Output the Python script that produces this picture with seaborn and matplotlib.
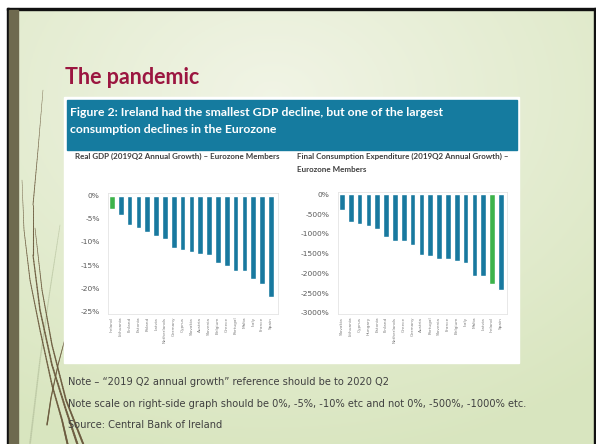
import numpy as np
import pandas as pd
import matplotlib
matplotlib.use("Agg")
import matplotlib.pyplot as plt
import seaborn as sns
from matplotlib.patches import Rectangle
from matplotlib.collections import LineCollection

# ---------------- data ----------------
gdp_countries = ["Ireland", "Lithuania", "Finland", "Estonia", "Poland", "Latvia",
                 "Netherlands", "Germany", "Cyprus", "Slovakia", "Austria", "Slovenia",
                 "Belgium", "Greece", "Portugal", "Malta", "Italy", "France", "Spain"]
gdp_values = [-2.8, -4.1, -6.4, -6.9, -7.8, -8.8, -9.3, -11.3, -11.8, -12.2, -12.5,
              -12.9, -14.6, -15.2, -16.2, -16.2, -18.0, -19.1, -22.0]

cons_countries = ["Slovakia", "Lithuania", "Cyprus", "Hungary", "Estonia", "Finland",
                  "Netherlands", "Greece", "Germany", "Austria", "Portugal", "Slovenia",
                  "France", "Belgium", "Italy", "Malta", "Latvia", "Ireland", "Spain"]
cons_values = [-400, -710, -750, -805, -875, -1080, -1170, -1185, -1290, -1530, -1555,
               -1645, -1645, -1690, -1750, -2060, -2075, -2275, -2430]

gdp_ticks = [0, -5, -10, -15, -20, -25]
gdp_ticklabels = ["0%", "-5%", "-10%", "-15%", "-20%", "-25%"]
cons_ticks = [0, -500, -1000, -1500, -2000, -2500, -3000]
cons_ticklabels = ["0%", "-500%", "-1000%", "-1500%", "-2000%", "-2500%", "-3000%"]

highlight = "Ireland"

slide_title = "The pandemic"
fig_title = ["Figure 2: Ireland had the smallest GDP decline, but one of the largest",
             "consumption declines in the Eurozone"]
left_title = "Real GDP (2019Q2 Annual Growth) \u2013 Eurozone Members"
right_title = ["Final Consumption Expenditure (2019Q2 Annual Growth) \u2013",
               "Eurozone Members"]
notes = ["Note \u2013 \u201c2019 Q2 annual growth\u201d reference should be to 2020 Q2",
         "Note scale on right-side graph should be 0%, -5%, -10% etc and not 0%, -500%, -1000% etc.",
         "Source: Central Bank of Ireland"]

# ---------------- styling ----------------
sns.set_theme(style="white")
plt.rcParams['font.family'] = ['DejaVu Sans']

W, H = 596, 444
fig = plt.figure(figsize=(W / 100, H / 100), dpi=100)

BLUE = "#18799f"
HEAD = "#157b9f"
GREEN = "#3db34b"

# background axes in pixel coordinates
bg = fig.add_axes([0, 0, 1, 1])
bg.set_xlim(0, W)
bg.set_ylim(H, 0)
bg.axis("off")

# slide gradient
yy, xx = np.mgrid[0:1:200j, 0:1:260j]
d = np.sqrt(((xx - 0.45) / 0.85) ** 2 + ((yy - 0.2) / 0.85) ** 2)
d = np.clip(d, 0, 1)
c0 = np.array([0.945, 0.958, 0.900])
c1 = np.array([0.850, 0.900, 0.750])
img = c0[None, None, :] * (1 - d[..., None]) + c1[None, None, :] * d[..., None]
bg.imshow(img, extent=(8, 596, 444, 9), aspect="auto", zorder=0)
# frame and olive bar
bg.add_patch(Rectangle((6.5, 8), 600, 2.5, color="#111111", zorder=1))
bg.add_patch(Rectangle((6.5, 8), 2.5, 440, color="#111111", zorder=1))
bg.add_patch(Rectangle((593.5, 8), 3, 440, color="#111111", zorder=1))
bg.add_patch(Rectangle((9, 10.5), 9, 440, color="#6e6a4f", zorder=1))


# wisp lines (decoration)
def wisp(pts, col, lw0, lw1, a, z=2):
    p = np.array(pts, dtype=float)
    t = np.linspace(0, 1, len(p))
    tt = np.linspace(0, 1, 120)
    bx = np.interp(tt, t, p[:, 0])
    by = np.interp(tt, t, p[:, 1])
    segs = [[(bx[i], by[i]), (bx[i + 1], by[i + 1])] for i in range(len(bx) - 1)]
    lws = np.linspace(lw0, lw1, len(segs))
    bg.add_collection(LineCollection(segs, colors=col, linewidths=lws, alpha=a,
                                     zorder=z, capstyle="round"))


wisp([(60, 225), (50, 290), (40, 360), (30, 444)], "#b8c4a0", 0.5, 1.2, 0.6)
wisp([(22, 180), (24, 230), (30, 280), (40, 330), (52, 385), (62, 420), (68, 446)],
     "#6b5a3e", 0.3, 1.4, 0.9)
wisp([(43, 90), (38, 150), (33, 205), (33, 255), (40, 310), (52, 365), (66, 410), (78, 446)],
     "#6b5a3e", 0.3, 1.5, 0.9)
wisp([(35, 228), (42, 290), (52, 345), (66, 400), (84, 446)],
     "#6b5a3e", 0.4, 1.4, 0.9)
wisp([(66, 335), (58, 365), (51, 398), (47, 425)], "#6b5a3e", 0.5, 1.0, 0.85)

# white figure box and header
bg.add_patch(Rectangle((64, 97), 455, 266, color="white", zorder=3))
bg.add_patch(Rectangle((67, 99.5), 450, 50, color=HEAD, zorder=4))

bg.text(65, 84, slide_title, fontsize=15.5, fontweight="bold", color="#9b1640",
        family=["Lato", "DejaVu Sans"], va="baseline", zorder=5)
bg.text(70, 116, fig_title[0], fontsize=8.8, fontweight="bold", color="white",
        family=["Lato", "DejaVu Sans"], va="baseline", zorder=5)
bg.text(70, 132.5, fig_title[1], fontsize=8.8, fontweight="bold", color="white",
        family=["Lato", "DejaVu Sans"], va="baseline", zorder=5)

bg.text(75, 158.5, left_title, fontsize=5.8, fontweight="bold", color="#3f3f3f",
        family=["Lato", "DejaVu Sans"], va="baseline", zorder=5)
bg.text(297, 158.5, right_title[0], fontsize=5.8, fontweight="bold", color="#3f3f3f",
        family=["Lato", "DejaVu Sans"], va="baseline", zorder=5)
bg.text(297, 171.5, right_title[1], fontsize=5.8, fontweight="bold", color="#3f3f3f",
        family=["Lato", "DejaVu Sans"], va="baseline", zorder=5)

for i, line in enumerate(notes):
    bg.text(68, 385 + i * 21.5, line, fontsize=7.1, color="#404040",
            family=["DejaVu Sans"], va="baseline", zorder=5)


def draw(ax, cats, vals, ticks, ticklabels, xlim, ylim):
    df = pd.DataFrame({"country": cats, "value": vals})
    pal = {c: (GREEN if c == highlight else BLUE) for c in cats}
    sns.barplot(data=df, x="country", y="value", hue="country", palette=pal,
                legend=False, width=0.64, saturation=1, ax=ax, order=cats)
    ax.set_xlim(*xlim)
    ax.set_ylim(*ylim)
    ax.set_yticks(ticks)
    ax.set_yticklabels(ticklabels, fontsize=5.4, color="#595959")
    ax.set_xticks(range(len(cats)))
    ax.set_xticklabels(cats, rotation=90, fontsize=3.1, color="#808080")
    ax.tick_params(axis="both", length=0, pad=6)
    ax.tick_params(axis="x", pad=2)
    ax.set_xlabel("")
    ax.set_ylabel("")
    for s in ax.spines.values():
        s.set_color("#e4e4e4")
        s.set_linewidth(0.6)
    ax.patch.set_alpha(0)


ax1 = fig.add_axes([108 / W, 1 - 314 / H, 170 / W, 121 / H])
draw(ax1, gdp_countries, gdp_values, gdp_ticks, gdp_ticklabels,
     (-0.45, 18.8), (-25.6, 0.6))
ax2 = fig.add_axes([338 / W, 1 - 314 / H, 169 / W, 122 / H])
draw(ax2, cons_countries, cons_values, cons_ticks, cons_ticklabels,
     (-0.45, 18.7), (-3030, 60))

fig.savefig("out.png", dpi=100)
